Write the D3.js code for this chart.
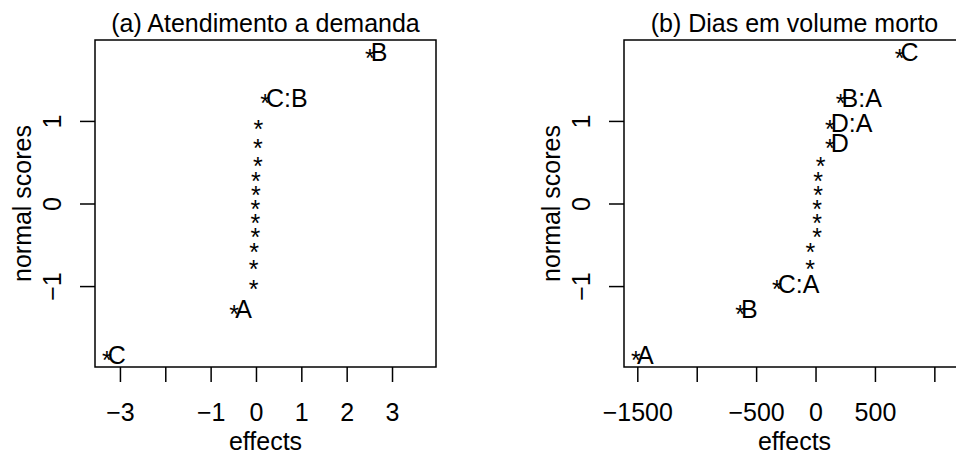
<!DOCTYPE html>
<html lang="pt">
<head>
    <meta charset="UTF-8">
    <title>Normal plots of effects</title>
    <script src="https://d3js.org/d3.v7.min.js"></script>
    <style>
        body { margin: 0; background: #fff; }
        svg { font-family: "Liberation Sans", Arial, sans-serif; }
        .axis path.domain { display: none; }
        .axis line { stroke: #000; stroke-width: 1.5; }
        .axis text { font-size: 25px; fill: #000; font-family: "Liberation Sans", Arial, sans-serif; }
    </style>
</head>
<body>
    <div id="chart"></div>

    <script>
        // normal scores (same for both panels, 15 effects each)
        const scores = [-1.83, -1.28, -0.97, -0.73, -0.52, -0.34, -0.17, 0, 0.17, 0.34, 0.52, 0.73, 0.97, 1.28, 1.83];

        // (a) Atendimento a demanda
        const effectsA = [-3.29, -0.48, -0.05, -0.05, -0.04, -0.015, -0.015, -0.015, 0, 0, 0.04, 0.04, 0.05, 0.2, 2.51];
        const labelsA = ["C", "A", "", "", "", "", "", "", "", "", "", "", "", "C:B", "B"];
        const xTicksA = [-3, -2, -1, 0, 1, 2, 3];
        const xTickLabelsA = ["\u22123", "", "\u22121", "0", "1", "2", "3"];

        // (b) Dias em volume morto
        const effectsB = [-1512, -635, -326, -46, -44, 13, 13, 13, 22, 22, 42, 120, 120, 211, 707];
        const labelsB = ["A", "B", "C:A", "", "", "", "", "", "", "", "", "D", "D:A", "B:A", "C"];
        const xTicksB = [-1500, -1000, -500, 0, 500, 1000];
        const xTickLabelsB = ["\u22121500", "", "\u2212500", "0", "500", ""];

        const yTicks = [-1, 0, 1];
        const yTickLabels = ["\u22121", "0", "1"];

        const width = 956;
        const height = 454;
        const fontSize = 25;

        const svg = d3.select("#chart").append("svg")
            .attr("width", width)
            .attr("height", height);

        svg.append("rect").attr("width", width).attr("height", height).attr("fill", "#fff");

        const panels = [
            { title: "(a) Atendimento a demanda", left: 95, xlim: [-3.55, 3.97],
              effects: effectsA, labels: labelsA, ticks: xTicksA, tickLabels: xTickLabelsA },
            { title: "(b) Dias em volume morto", left: 624, xlim: [-1612, 1258],
              effects: effectsB, labels: labelsB, ticks: xTicksB, tickLabels: xTickLabelsB }
        ];

        const plotTop = 40, plotBottom = 367, boxW = 341;
        const y = d3.scaleLinear().domain([-1.98, 1.98]).range([plotBottom, plotTop]);

        panels.forEach(p => {
            const x = d3.scaleLinear().domain(p.xlim).range([p.left, p.left + boxW]);
            const g = svg.append("g");

            // box
            g.append("rect")
                .attr("x", p.left).attr("y", plotTop)
                .attr("width", boxW).attr("height", plotBottom - plotTop)
                .attr("fill", "none").attr("stroke", "#000").attr("stroke-width", 1.5);

            // x axis
            g.append("g")
                .attr("class", "axis")
                .attr("transform", `translate(0,${plotBottom})`)
                .call(d3.axisBottom(x)
                    .tickValues(p.ticks)
                    .tickFormat((d, i) => p.tickLabels[i])
                    .tickSize(15)
                    .tickPadding(21));

            // y axis, labels rotated as in base R
            const yAxis = g.append("g")
                .attr("class", "axis")
                .attr("transform", `translate(${p.left},0)`)
                .call(d3.axisLeft(y)
                    .tickValues(yTicks)
                    .tickFormat((d, i) => yTickLabels[i])
                    .tickSize(15));
            yAxis.selectAll("text")
                .attr("x", 0).attr("y", -34).attr("dy", null)
                .attr("text-anchor", "middle")
                .attr("transform", "rotate(-90)");

            // title and axis titles
            g.append("text")
                .attr("x", p.left + boxW / 2).attr("y", 32)
                .attr("text-anchor", "middle")
                .style("font-size", fontSize + "px")
                .text(p.title);

            g.append("text")
                .attr("x", p.left + boxW / 2).attr("y", 450)
                .attr("text-anchor", "middle")
                .style("font-size", fontSize + "px")
                .text("effects");

            g.append("text")
                .attr("transform", `translate(${p.left - 64},${(plotTop + plotBottom) / 2}) rotate(-90)`)
                .attr("text-anchor", "middle")
                .style("font-size", fontSize + "px")
                .text("normal scores");

            // points drawn as "*" like pch = "*"
            const pts = g.selectAll(".pt")
                .data(p.effects.map((e, i) => ({ e: e, s: scores[i], lab: p.labels[i] })))
                .enter().append("g")
                .attr("class", "pt")
                .attr("transform", d => `translate(${x(d.e)},${y(d.s)})`);

            pts.append("text")
                .attr("y", fontSize * 0.57)
                .attr("text-anchor", "middle")
                .style("font-size", fontSize + "px")
                .text("*");

            pts.filter(d => d.lab !== "")
                .append("text")
                .attr("x", 1)
                .attr("y", fontSize * 0.36)
                .style("font-size", fontSize + "px")
                .text(d => d.lab);
        });
    </script>
</body>
</html>
